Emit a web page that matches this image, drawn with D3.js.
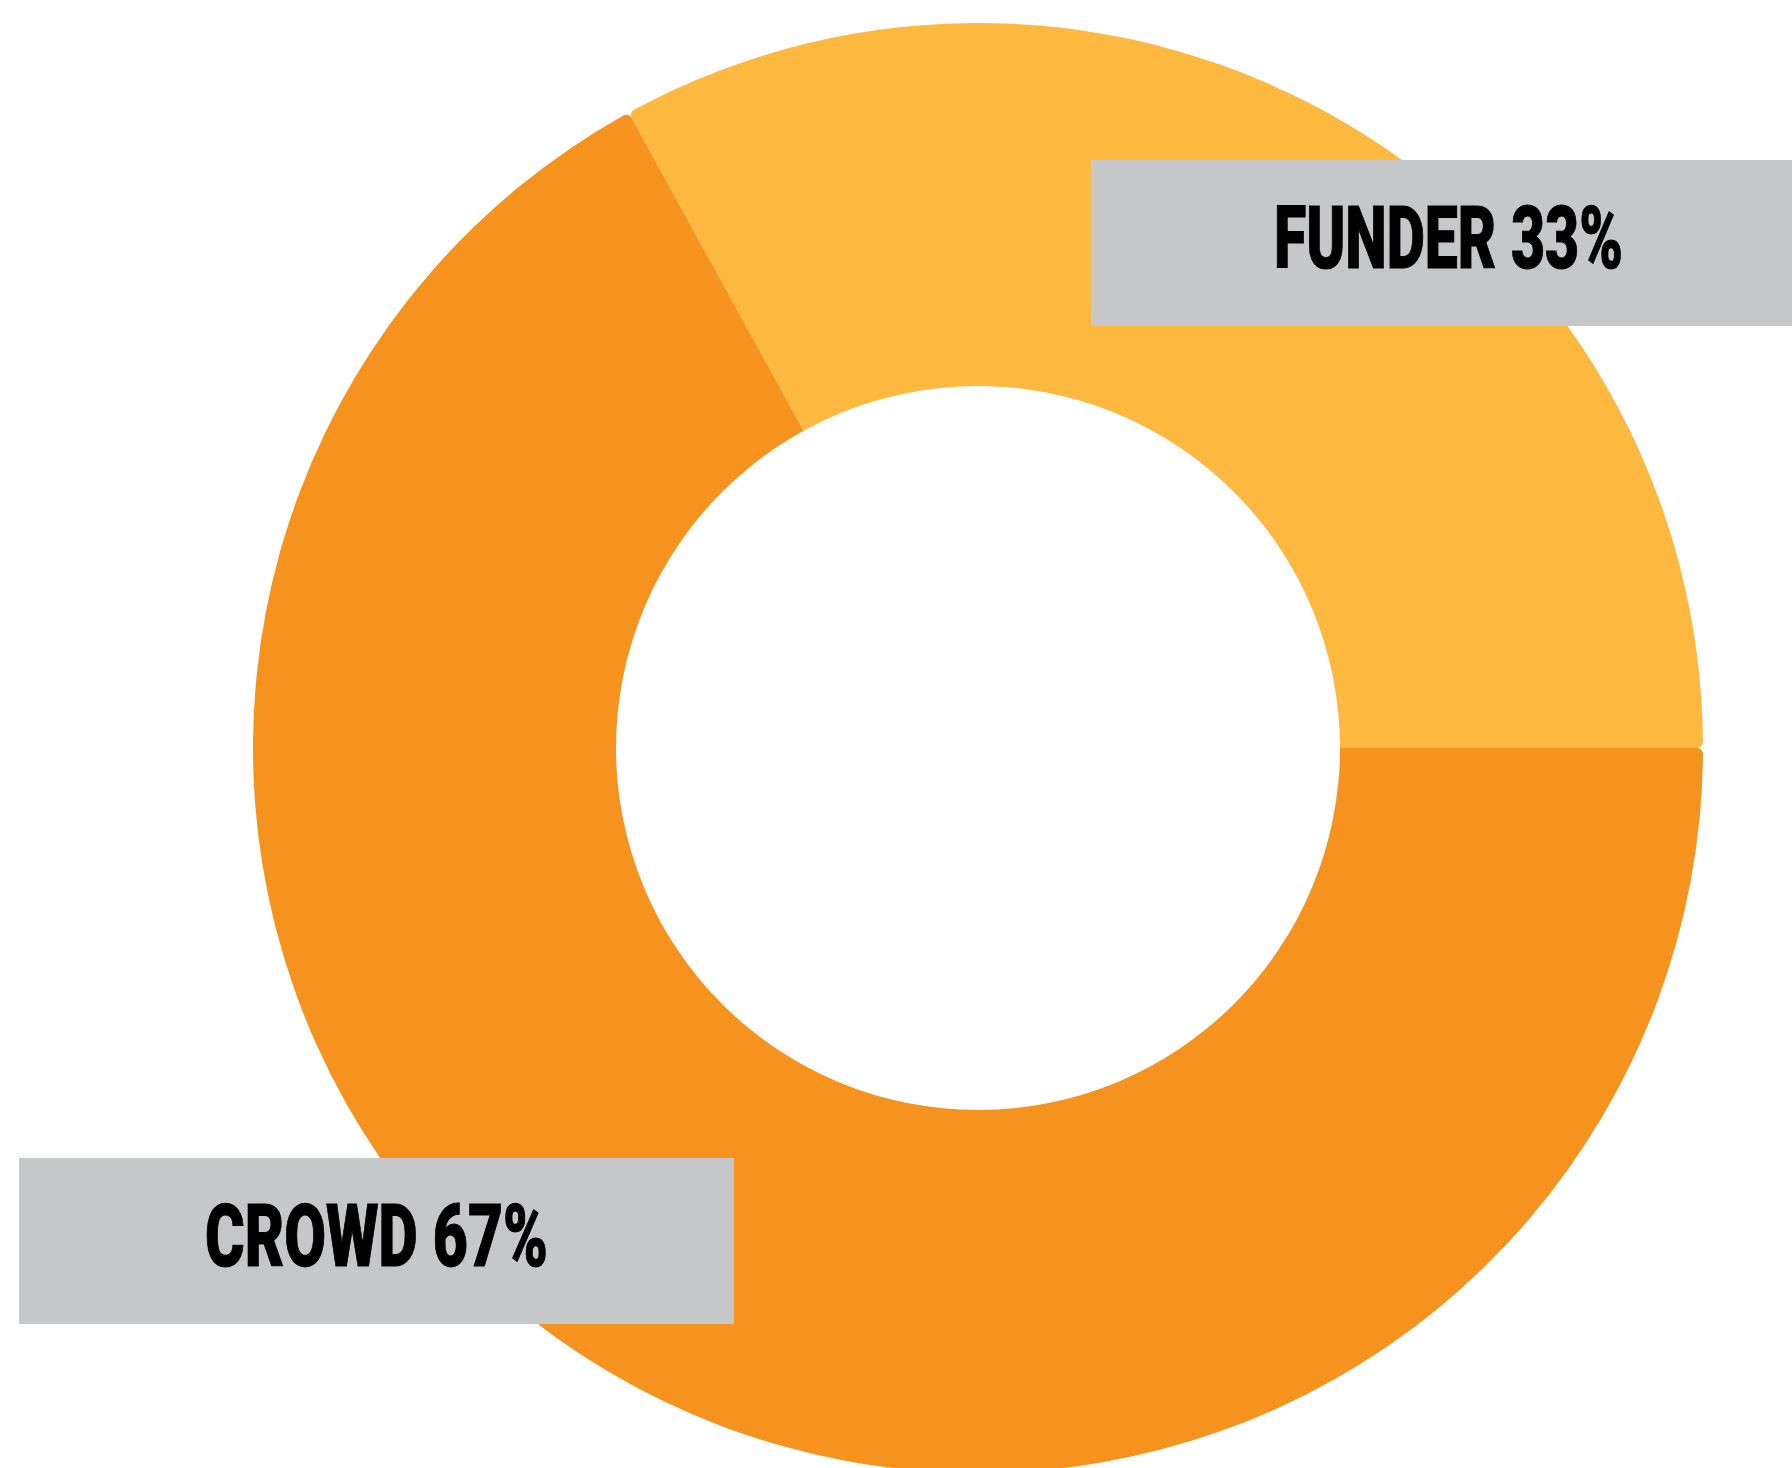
<!DOCTYPE html>
<html>
<head>
<meta charset="utf-8">
<script src="https://cdn.jsdelivr.net/npm/d3@7"></script>
<style>
html,body{margin:0;padding:0;background:#fff;overflow:hidden;}
svg{display:block;}
</style>
</head>
<body>
<svg id="chart" width="1792" height="1468"></svg>
<script>
const categories = ["FUNDER", "CROWD"];
const values = [33, 67];
const labels = ["FUNDER 33%", "CROWD 67%"];
const colors = ["#FDB840", "#F6921E"];

const W = 1792, H = 1468;
const cx = 978, cy = 748, outerR = 725, innerR = 362;

const svg = d3.select("#chart");
const g = svg.append("g").attr("transform", `translate(${cx},${cy})`);

const total = d3.sum(values);
const start = Math.PI / 2 - (values[0] / total) * 2 * Math.PI;
const pie = d3.pie().sort(null).startAngle(start).endAngle(start + 2 * Math.PI);
const arcs = pie(values);

const arc = d3.arc().innerRadius(0).outerRadius(outerR).cornerRadius(6);
g.selectAll("path.slice").data(arcs).join("path")
  .attr("class", "slice")
  .attr("d", arc)
  .attr("fill", (d, i) => colors[i]);

g.append("circle").attr("r", innerR).attr("fill", "#fff");

// label boxes
const boxes = [
  {x: 1091, y: 160, w: 1792 - 1091, h: 166, tx: 1274, tw: 349, base: 268},
  {x: 19, y: 1158, w: 734 - 19, h: 166, tx: 205, tw: 343, base: 1266}
];
boxes.forEach((b, i) => {
  svg.append("rect").attr("x", b.x).attr("y", b.y).attr("width", b.w).attr("height", b.h).attr("fill", "#C6C7C9");
  const t = svg.append("g").attr("transform", `translate(${b.tx},${b.base})`)
    .append("text")
    .attr("x", 0).attr("y", 0)
    .attr("font-family", "Roboto, 'DejaVu Sans Condensed', sans-serif")
    .attr("font-weight", 900)
    .attr("font-size", 88)
    .attr("fill", "#000")
    .attr("stroke", "#000")
    .attr("stroke-width", 1)
    .text(labels[i]);
  const natural = t.node().getComputedTextLength();
  t.attr("transform", `scale(${b.tw / natural},1)`);
});
</script>
</body>
</html>
